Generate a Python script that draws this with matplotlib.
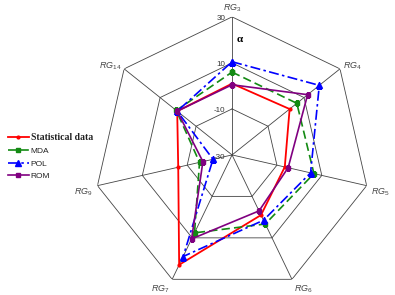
import numpy as np
import matplotlib
matplotlib.use("Agg")
from matplotlib import pyplot as plt

# Axis names and values
categories = ["3", "4", "5", "6", "7", "9", "14"]
stat_data = [1, 2, -6.5, -1, 23, -6, 0.5]
mda = [6, 6, 6.5, 3.3, 7.6, -15.5, 1]
pol = [10.5, 18.5, 5, 1.5, 19, -21.5, 0.5]
rom = [0.5, 12, -5, -3, 10.5, -17, 0.5]
ring_values = [30, 10, -10]
tick_labels = ["30", "10", "-10", "-30"]
tick_values = [30, 10, -10, -30]
r_min, r_max = -30, 30

plt.rcParams["mathtext.fontset"] = "custom"
plt.rcParams["mathtext.it"] = "Liberation Sans:italic"
plt.rcParams["mathtext.rm"] = "Liberation Sans"

fig = plt.figure(figsize=(3.95, 2.95), dpi=100)
ax = fig.add_axes([0.238, 0.0068, 0.699, 0.936], projection="polar")
ax.set_theta_offset(np.pi / 2)
ax.set_theta_direction(-1)
ax.set_ylim(r_min, r_max)
ax.grid(False)
ax.spines["polar"].set_visible(False)
ax.set_xticks([])
ax.set_yticks([])
ax.patch.set_alpha(0)

n = len(categories)
theta = np.arange(n) * 2 * np.pi / n
theta_c = np.append(theta, theta[0])

# Heptagon grid
for rv in ring_values:
    ax.plot(theta_c, [rv] * (n + 1), color="#444444", lw=0.6, zorder=1)
for t in theta:
    ax.plot([t, t], [r_min, r_max], color="#444444", lw=0.6, zorder=1)

def closed(vals):
    return np.append(vals, vals[0])

ax.plot(theta_c, closed(stat_data), color="#ff0000", lw=1.3, marker="o", ms=2,
        label="Statistical data", zorder=3)
ax.plot(theta_c, closed(mda), color="#138a13", lw=1.2, ls=(0, (5, 2.5)), marker="s",
        ms=3.5, label="MDA", zorder=3)
ax.plot(theta_c, closed(pol), color="#0000ff", lw=1.2, ls=(0, (6, 2, 1.5, 2)), marker="^",
        ms=4, label="POL", zorder=3)
ax.plot(theta_c, closed(rom), color="#800080", lw=1.2, marker="s", ms=2.8,
        label="ROM", zorder=4)

# Category labels
label_pos = [(31.2, "center", "bottom"), (31.5, "left", "center"), (32, "left", "top"),
             (32, "left", "top"), (32, "right", "top"), (32, "right", "top"),
             (31.5, "right", "center")]
for t, c, (r, ha, va) in zip(theta, categories, label_pos):
    ax.text(t, r, r"$RG_{\mathrm{%s}}$" % c, ha=ha, va=va, fontsize=6.5,
            color="#444444", clip_on=False)

# Radial tick labels next to the top spoke
for tv, tl in zip(tick_values, tick_labels):
    ax.annotate(tl, xy=(0, tv), xytext=(-5, -1.5), textcoords="offset points",
                ha="right", va="center", fontsize=5.8, color="#333333",
                family="Liberation Sans")

ax.annotate("α", xy=(0, 20), xytext=(3, 0), textcoords="offset points", ha="left",
            va="center", fontsize=8, fontweight="bold", family="Liberation Serif")

leg = fig.legend(loc="upper left", bbox_to_anchor=(0.0, 0.575), frameon=False,
                 handlelength=2.6, handletextpad=0.2, labelspacing=0.6,
                 prop={"family": "Liberation Sans", "size": 6})
for i, txt in enumerate(leg.get_texts()):
    if i == 0:
        txt.set_fontfamily("Liberation Serif")
        txt.set_fontweight("bold")
        txt.set_fontsize(7)
    txt.set_color("#222222")

fig.savefig("out.png", dpi=100)
